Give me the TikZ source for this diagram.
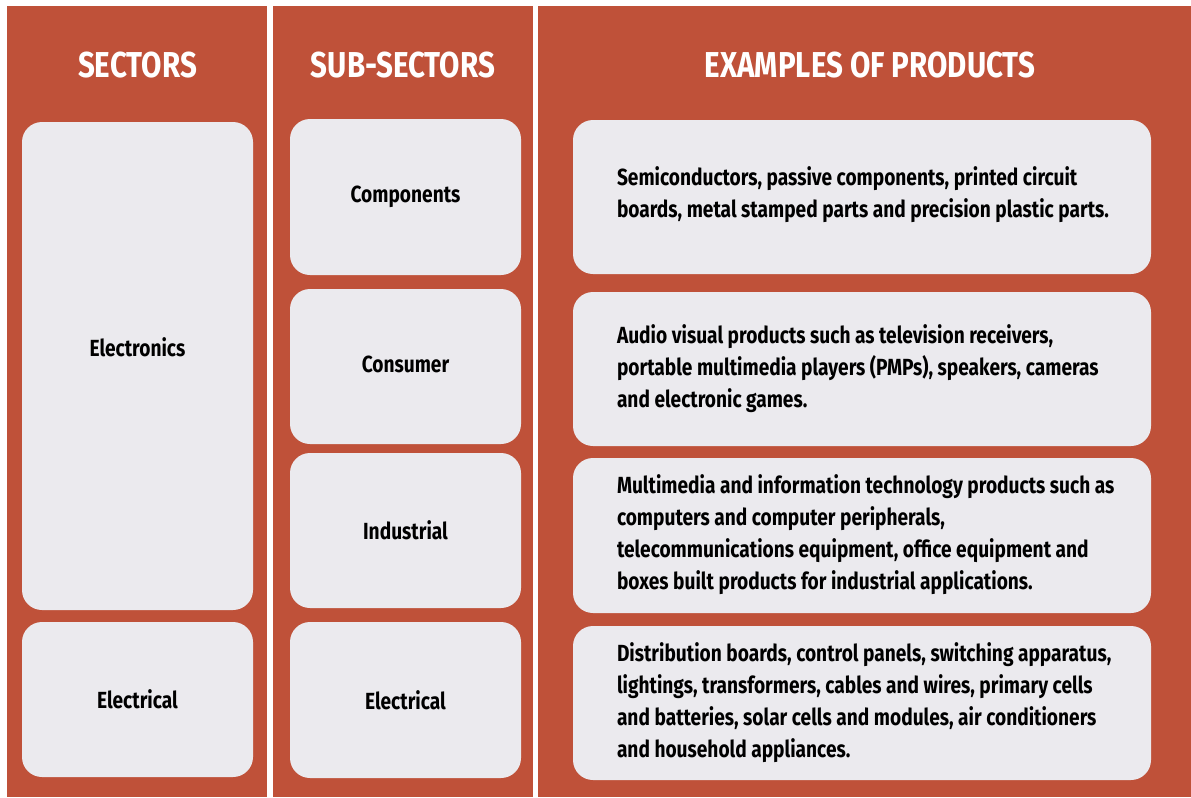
\documentclass[tikz,border=0pt]{standalone}
\usepackage{fontspec}
\setmainfont{Fira Sans}[FakeStretch=0.82]
\definecolor{panelred}{HTML}{BF5139}
\definecolor{boxgrey}{HTML}{EBEAEE}
\begin{document}
\begin{tikzpicture}[x=0.75pt,y=-0.75pt,
  panel/.style={fill=panelred,draw=none},
  head/.style={text=white,font=\bfseries\fontsize{27}{31}\selectfont,inner sep=0pt},
  cell/.style={fill=boxgrey,draw=none,rounded corners=15pt,inner sep=0pt,
    font=\bfseries\fontsize{17.5}{24}\selectfont,text=black},
  lbl/.style={inner sep=0pt,font=\bfseries\fontsize{17.5}{24}\selectfont,text=black},
  desc/.style={inner sep=0pt,align=left,anchor=west,
    font=\bfseries\fontsize{17.5}{24}\selectfont,text=black}]
\useasboundingbox (0,0) rectangle (1191,797);
\fill[white] (0,0) rectangle (1191,797);
% column panels
\path[panel] (7,6) rectangle (267,797);
\path[panel] (273,6) rectangle (533,797);
\path[panel] (538,6) rectangle (1191,797);
% headings
\node[head] (h1) at (137.5,65) {SECTORS};
\node[head] (h2) at (403,65) {SUB-SECTORS};
\node[head] (h3) at (870,65) {EXAMPLES OF PRODUCTS};
% sectors
\node[cell,minimum width=173.25pt,minimum height=366pt] (s1) at (137.5,366) {};
\node[lbl] (s1t) at (137.5,347.5) {Electronics};
\node[cell,minimum width=173.25pt,minimum height=116.25pt] (s2) at (137.5,699.5) {Electrical};
% sub-sectors
\node[cell,minimum width=173.25pt,minimum height=117pt] (u1) at (405.5,197) {};
\node[lbl] (u1t) at (405.5,196.5) {Components};
\node[cell,minimum width=173.25pt,minimum height=116.25pt] (u2) at (405.5,366.5) {};
\node[lbl] (u2t) at (405.5,364) {Consumer};
\node[cell,minimum width=173.25pt,minimum height=116.25pt] (u3) at (405.5,530.5) {Industrial};
\node[cell,minimum width=173.25pt,minimum height=117pt] (u4) at (405.5,700) {Electrical};
% product boxes
\node[cell,minimum width=433.5pt,minimum height=115.5pt] (p1) at (862,197) {};
\node[cell,minimum width=433.5pt,minimum height=115.5pt] (p2) at (862,369) {};
\node[cell,minimum width=433.5pt,minimum height=116.25pt] (p3) at (862,535.5) {};
\node[cell,minimum width=433.5pt,minimum height=115.5pt] (p4) at (862,703) {};
\node[desc] (t1) at ([xshift=33pt,yshift=1.5pt]p1.west) {Semiconductors, passive components, printed circuit\\boards, metal stamped parts and precision plastic parts.};
\node[desc] (t2) at ([xshift=33pt]p2.west) {Audio visual products such as television receivers,\\portable multimedia players (PMPs), speakers, cameras\\and electronic games.};
\node[desc] (t3) at ([xshift=33pt,yshift=1pt]p3.west) {Multimedia and information technology products such as\\computers and computer peripherals,\\telecommunications equipment, office equipment and\\boxes built products for industrial applications.};
\node[desc] (t4) at ([xshift=33pt]p4.west) {Distribution boards, control panels, switching apparatus,\\lightings, transformers, cables and wires, primary cells\\and batteries, solar cells and modules, air conditioners\\and household appliances.};
\end{tikzpicture}
\end{document}
